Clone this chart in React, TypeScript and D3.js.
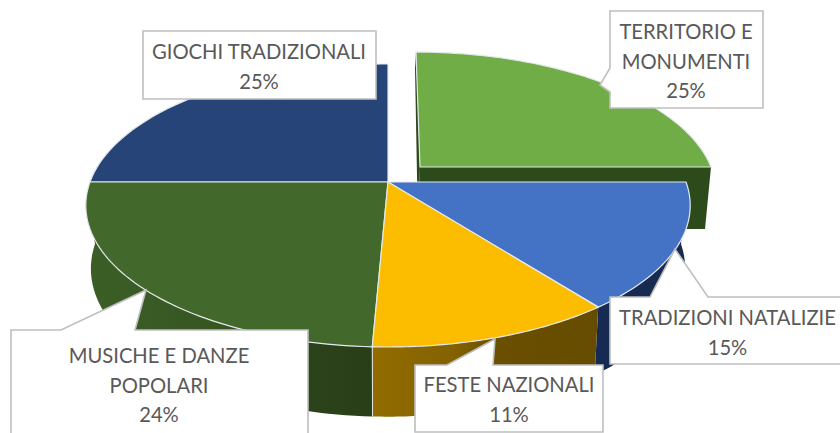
import React from "react";
import * as d3 from "d3";

const categories = ["TERRITORIO E MONUMENTI", "TRADIZIONI NATALIZIE", "FESTE NAZIONALI", "MUSICHE E DANZE POPOLARI", "GIOCHI TRADIZIONALI"];
const values = [25, 14.5, 11.2, 24.3, 25];
const topColors = ["#70AD47", "#4472C4", "#FCBD00", "#43682B", "#264478"];
const wallFills = ["#2D4A1B", "#172B52", "url(#wallYellow)", "url(#wallGreen)", "#172B52"];
const labelLines = [["TERRITORIO E", "MONUMENTI", "25%"], ["TRADIZIONI NATALIZIE", "15%"], ["FESTE NAZIONALI", "11%"], ["MUSICHE E DANZE", "POPOLARI", "24%"], ["GIOCHI TRADIZIONALI", "25%"]];

// callout geometry: box, text anchor, first baseline, and leader [edge-base-a, tip, edge-base-b]
const callouts = [
  { box: [610, 11, 763, 108], cx: 686, y: 39, leader: [[610, 92], [600, 85], [610, 68]] },
  { box: [610, 297, 860, 364], cx: 727.5, y: 325, leader: [[650, 297], [675, 249], [708, 297]] },
  { box: [415, 365, 603, 432], cx: 509, y: 392, leader: [[447, 365], [495, 339], [493, 365]] },
  { box: [11, 330, 308, 450], cx: 159, y: 363, leader: [[61, 330], [146, 290], [135, 330]] },
  { box: [143, 31, 376, 99], cx: 259, y: 59, leader: [] as number[][] },
];

const k = -0.166;
const origin = { x: 388, y: 182 };
type Plane = { b: number; a: number; ox: number; oy: number; sx: number };
// front group of slices
const topPlane: Plane = { b: 298, a: 137.6, ox: 0, oy: 0, sx: 0 };
const bottomPlane: Plane = { b: 293, a: 144, ox: 0, oy: 62, sx: 0 };
// the pulled-out slice sits farther from the viewer
const explodedTop: Plane = { b: 291, a: 134, ox: 32, oy: -15, sx: 4.66 };
const explodedBottom: Plane = { b: 287, a: 188, ox: 30, oy: 47, sx: 3.5 };

const project = (angle: number, r: number, p: Plane): [number, number] => {
  const u = Math.sin(angle) * r;
  const v = -Math.cos(angle) * r;
  const d = 1 + k * v;
  return [origin.x + p.ox + (p.b * u + p.sx * v) / d, origin.y + p.oy + (p.a * v) / d];
};

const pie = d3.pie<number>().sort(null).value((d) => d);
const arcs = pie(values);
const line = d3.line();

const arcPoints = (a0: number, a1: number, p: Plane) =>
  d3.range(0, 61).map((i) => project(a0 + ((a1 - a0) * i) / 60, 1, p));

const slicePath = (a0: number, a1: number, p: Plane) =>
  line([project(0, 0, p), ...arcPoints(a0, a1, p)]) + "Z";

const wallPath = (a0: number, a1: number, t: Plane, b: Plane) =>
  line([...arcPoints(a0, a1, t), ...arcPoints(a0, a1, b).reverse()]) + "Z";

const sideQuad = (a: number, t: Plane, b: Plane) =>
  line([project(a, 0, t), project(a, 1, t), project(a, 1, b), project(a, 0, b)]) + "Z";

const calloutPath = (c: (typeof callouts)[number]) => {
  const [x0, y0, x1, y1] = c.box;
  const pts: number[][] = [];
  if (c.leader.length && c.leader[0][0] === x0) {
    pts.push([x0, y0], ...[...c.leader].reverse(), [x0, y1], [x1, y1], [x1, y0]);
  } else {
    pts.push([x0, y0], ...c.leader, [x1, y0], [x1, y1], [x0, y1]);
  }
  return line(pts as [number, number][]) + "Z";
};

const frontOrder = [4, 1, 3, 2];
const stroke = "#E4E8EC";

export default function App() {
  const seam0 = project(arcs[3].startAngle, 1, topPlane);
  const seam1 = project(arcs[3].startAngle, 1, bottomPlane);
  return (
    <svg width={840} height={433} style={{ position: "absolute", left: 0, top: 0 }} fontFamily="Lato, Carlito, sans-serif">
      <defs>
        <linearGradient id="wallYellow" gradientUnits="userSpaceOnUse" x1="373" x2="600" y1="0" y2="0">
          <stop offset="0" stopColor="#926C00" />
          <stop offset="0.35" stopColor="#846200" />
          <stop offset="0.55" stopColor="#6A4F00" />
          <stop offset="1" stopColor="#664C00" />
        </linearGradient>
        <linearGradient id="wallGreen" gradientUnits="userSpaceOnUse" x1="90" x2="373" y1="0" y2="0">
          <stop offset="0" stopColor="#3B5E26" />
          <stop offset="0.45" stopColor="#375622" />
          <stop offset="0.7" stopColor="#2C441A" />
          <stop offset="1" stopColor="#283E18" />
        </linearGradient>
      </defs>
      <rect width={840} height={433} fill="#fff" />
      <g>
        <path d={sideQuad(arcs[0].startAngle, explodedTop, explodedBottom)} fill={wallFills[0]} />
        <path d={sideQuad(arcs[0].endAngle, explodedTop, explodedBottom)} fill={wallFills[0]} />
        <path d={slicePath(arcs[0].startAngle, arcs[0].endAngle, explodedTop)} fill={topColors[0]} stroke={stroke} strokeWidth={1.2} />
      </g>
      {frontOrder.map((i) => (
        <path key={`w${i}`} d={wallPath(arcs[i].startAngle, arcs[i].endAngle, topPlane, bottomPlane)} fill={wallFills[i]} />
      ))}
      {frontOrder.map((i) => (
        <path key={`t${i}`} d={slicePath(arcs[i].startAngle, arcs[i].endAngle, topPlane)} fill={topColors[i]} stroke={stroke} strokeWidth={1.2} strokeLinejoin="round" />
      ))}
      <line x1={seam0[0]} y1={seam0[1]} x2={seam1[0]} y2={seam1[1]} stroke={stroke} strokeWidth={1} />
      {callouts.map((c, i) => (
        <g key={i}>
          <path d={calloutPath(c)} fill="#fff" stroke="#BFBFBF" strokeWidth={1.6} />
          {labelLines[i].map((t, j) => (
            <text key={j} x={c.cx} y={c.y + j * 29.5} textAnchor="middle" fontSize={20.2} fill="#595959">
              {t}
            </text>
          ))}
        </g>
      ))}
    </svg>
  );
}
